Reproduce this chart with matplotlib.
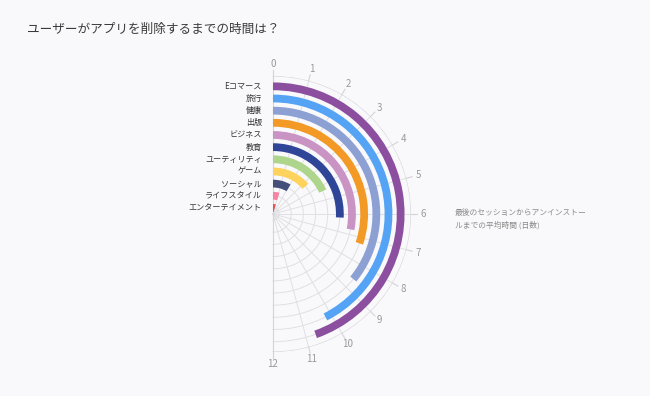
import numpy as np
import matplotlib
matplotlib.use("Agg")
import matplotlib.pyplot as plt

plt.rcParams['font.family'] = ['Noto Sans CJK JP', 'DejaVu Sans']

title = "ユーザーがアプリを削除するまでの時間は？"
categories = ["Eコマース", "旅行", "健康", "出版", "ビジネス", "教育",
              "ユーティリティ", "ゲーム", "ソーシャル", "ライフスタイル", "エンターテイメント"]
values = [10.7, 10.2, 8.6, 7.25, 6.75, 6.2, 4.35, 3.3, 2.05, 1.12, 1.1]
colors = ["#8c4f9f", "#55a3f5", "#8da0d3", "#f29a25", "#c994c4", "#2f4597",
          "#add68c", "#fdd35e", "#44507a", "#f683a4", "#e8504f"]
angle_ticks = list(range(0, 13))
axis_max = 12
note_lines = ["最後のセッションからアンインストー", "ルまでの平均時間 (日数)"]

W, H = 650, 396
bg = "#f9f9fb"
fig = plt.figure(figsize=(W / 100, H / 100), dpi=100, facecolor=bg)

cx, cy, R = 273, 214, 138
ax = fig.add_axes([(cx - R) / W, (H - cy - R) / H, 2 * R / W, 2 * R / H],
                  projection='polar')
ax.set_facecolor('none')
ax.set_theta_zero_location('N')
ax.set_theta_direction(-1)
n = len(categories)
rmax = 11.35
ax.set_ylim(0, rmax)
ax.grid(False)
ax.spines['polar'].set_visible(False)
ax.set_xticks([])
ax.set_yticks([])

def th(v):
    return np.asarray(v, dtype=float) * np.pi / axis_max

grid_c = "#e0e0e4"
t = np.linspace(0, np.pi, 300)
# concentric circles at band centers
for k in range(n):
    ax.plot(t, np.full_like(t, k + 0.5), color=grid_c, lw=0.7, zorder=1)
# outer axis circle
ax.plot(t, np.full_like(t, rmax), color="#d4d4d8", lw=0.8, zorder=1)
# spokes, ticks, labels
for v in angle_ticks:
    a = th(v)
    ax.plot([a, a], [0, rmax], color=grid_c, lw=0.7, zorder=1)
    ax.plot([a, a], [rmax, rmax + 0.5], color="#d4d4d8", lw=0.8, zorder=1, clip_on=False)
    ax.text(a, rmax + 1.0, str(v), ha='center', va='center', fontsize=7,
            color="#9a9a9a", clip_on=False)
ax.plot([0, 0], [0, rmax], color="#d4d4d8", lw=0.8, zorder=1)
ax.plot([np.pi, np.pi], [0, rmax], color="#d4d4d8", lw=0.8, zorder=1)

radii = [n - 1 - i + 0.5 for i in range(n)]
ax.barh(radii, th(values), left=0, height=0.64, color=colors, zorder=3)

for r, c in zip(radii, categories):
    ax.annotate(c, xy=(0, r), xycoords='data', xytext=(-8, 0),
                textcoords='offset points', ha='right', va='center',
                fontsize=5.85, color="#333333")

fig.text(27 / W, 1 - 30 / H, title, ha='left', va='center', fontsize=9.1,
         color="#3a3a3a")
for i, line in enumerate(note_lines):
    fig.text(455 / W, 1 - (213 + 12 * i) / H, line, ha='left', va='center',
             fontsize=5.6, color="#8a8a8a")

fig.savefig("out.png", dpi=100, facecolor=bg)
